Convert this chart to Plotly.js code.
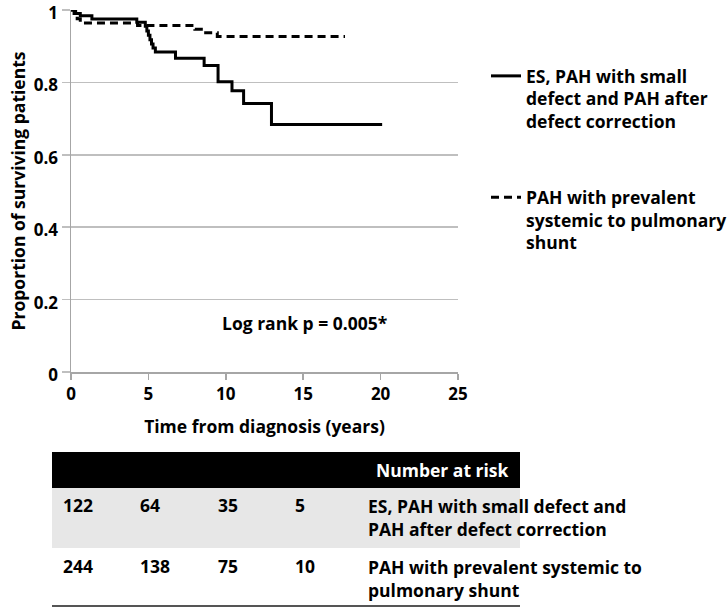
<!DOCTYPE html>
<html>
<head>
<meta charset="utf-8">
<script src="https://cdn.plot.ly/plotly-3.0.1.min.js"></script>
<style>html,body{margin:0;padding:0;background:#fff;}#chart{width:727px;height:609px;}</style>
</head>
<body>
<div id="chart"></div>
<script>
// ---- data ----
const esName = "ES, PAH with small<br>defect and PAH after<br>defect correction";
const pahName = "PAH with prevalent<br>systemic to pulmonary<br>shunt";
const esTime = [0, 0.3, 0.6, 1.35, 4.25, 4.8, 4.9, 5.0, 5.1, 5.2, 5.3, 5.45, 6.75, 8.6, 9.5, 10.4, 11.15, 12.95, 20.1];
const esSurv = [1, 0.99, 0.984, 0.975, 0.966, 0.955, 0.942, 0.93, 0.918, 0.906, 0.895, 0.884, 0.867, 0.847, 0.802, 0.777, 0.742, 0.684, 0.684];
const pahTime = [0, 0.2, 0.4, 0.6, 4.3, 8.0, 8.7, 9.45, 17.7];
const pahSurv = [1, 0.99, 0.976, 0.964, 0.957, 0.947, 0.937, 0.927, 0.927];
const xTicks = [0, 5, 10, 15, 20, 25];
const yTicks = [0, 0.2, 0.4, 0.6, 0.8, 1];
const yTickText = ["0", "0.2", "0.4", "0.6", "0.8", "1"];
const riskTimes = [0, 5, 10, 15];
const riskES = [122, 64, 35, 5];
const riskPAH = [244, 138, 75, 10];
const riskHeader = "Number at risk";
const riskLabelES = "ES, PAH with small defect and<br>PAH after defect correction";
const riskLabelPAH = "PAH with prevalent systemic to<br>pulmonary shunt";
const pText = "Log rank p = 0.005*";

// ---- layout helpers (pixel -> paper) ----
const L = 71, T = 10, W = 387, H = 362;
const px = x => (x - L) / W;
const py = y => (T + H - y) / H;
const FONT = "'Open Sans', sans-serif";
const FS = 17.5;
const bf = (c, s) => ({family: FONT, size: s || FS, color: c || '#000', weight: 'bold'});

const traces = [
  {x: esTime, y: esSurv, type: 'scatter', mode: 'lines', name: esName, legendgroup: 'a',
   line: {shape: 'hv', color: '#000', width: 3}},
  {x: pahTime, y: pahSurv, type: 'scatter', mode: 'lines', name: pahName, legendgroup: 'b',
   line: {shape: 'hv', color: '#000', width: 3, dash: '8px,5px'}}
];

const annotations = [
  {x: 15.1, y: 0.136, xref: 'x', yref: 'y', text: pText, showarrow: false, font: bf()},
  {x: px(511), y: py(470), xref: 'paper', yref: 'paper', xanchor: 'right', yanchor: 'middle',
   text: riskHeader, showarrow: false, font: bf('#fff')},
  {x: px(366), y: py(517), xref: 'paper', yref: 'paper', xanchor: 'left', yanchor: 'middle', align: 'left',
   text: riskLabelES, showarrow: false, font: bf()},
  {x: px(366), y: py(578), xref: 'paper', yref: 'paper', xanchor: 'left', yanchor: 'middle', align: 'left',
   text: riskLabelPAH, showarrow: false, font: bf()}
];
riskTimes.forEach((t, i) => {
  annotations.push({x: t, y: py(505), xref: 'x', yref: 'paper', xanchor: 'left', yanchor: 'middle', xshift: -10,
    text: String(riskES[i]), showarrow: false, font: bf()});
  annotations.push({x: t, y: py(566), xref: 'x', yref: 'paper', xanchor: 'left', yanchor: 'middle', xshift: -10,
    text: String(riskPAH[i]), showarrow: false, font: bf()});
});

const shapes = [
  {type: 'rect', xref: 'paper', yref: 'paper', x0: px(52), x1: px(520), y0: py(452), y1: py(488),
   fillcolor: '#000', line: {width: 0}},
  {type: 'rect', xref: 'paper', yref: 'paper', x0: px(52), x1: px(520), y0: py(488), y1: py(548),
   fillcolor: '#e7e7e7', line: {width: 0}},
  {type: 'line', xref: 'paper', yref: 'paper', x0: px(52), x1: px(520), y0: py(606), y1: py(606),
   line: {color: '#555', width: 2}}
];

const layout = {
  width: 727, height: 609,
  margin: {l: L, r: 727 - L - W, t: T, b: 609 - T - H, autoexpand: false},
  paper_bgcolor: '#fff', plot_bgcolor: '#fff',
  font: {family: FONT, size: FS, color: '#000'},
  xaxis: {
    range: [0, 25], tickvals: xTicks, ticks: 'outside', ticklen: 6, tickcolor: '#a6a6a6', tickwidth: 1.5,
    showline: true, linecolor: '#a6a6a6', linewidth: 1.5, showgrid: false, zeroline: false,
    tickfont: bf(null, 17), ticklabeloverflow: 'allow',
    title: {text: 'Time from diagnosis (years)', standoff: 17, font: bf()}
  },
  yaxis: {
    range: [0, 1], tickvals: yTicks, ticktext: yTickText, ticks: 'outside', ticklen: 8, tickcolor: '#bfbfbf', tickwidth: 1.5,
    showline: true, linecolor: '#a6a6a6', linewidth: 1.5, showgrid: true, gridcolor: '#bfbfbf', gridwidth: 1.5, zeroline: false,
    tickfont: bf(null, 17), ticklabeloverflow: 'allow', ticklabelshift: 3,
    title: {text: 'Proportion of surviving patients', standoff: 3, font: bf()}
  },
  showlegend: true,
  legend: {x: px(486), y: py(58), xanchor: 'left', yanchor: 'top', valign: 'top', traceorder: 'grouped',
    tracegroupgap: 50, itemwidth: 30, bgcolor: 'rgba(0,0,0,0)', font: bf()},
  annotations: annotations,
  shapes: shapes
};

Plotly.newPlot('chart', traces, layout, {displayModeBar: false, staticPlot: true});
</script>
</body>
</html>
